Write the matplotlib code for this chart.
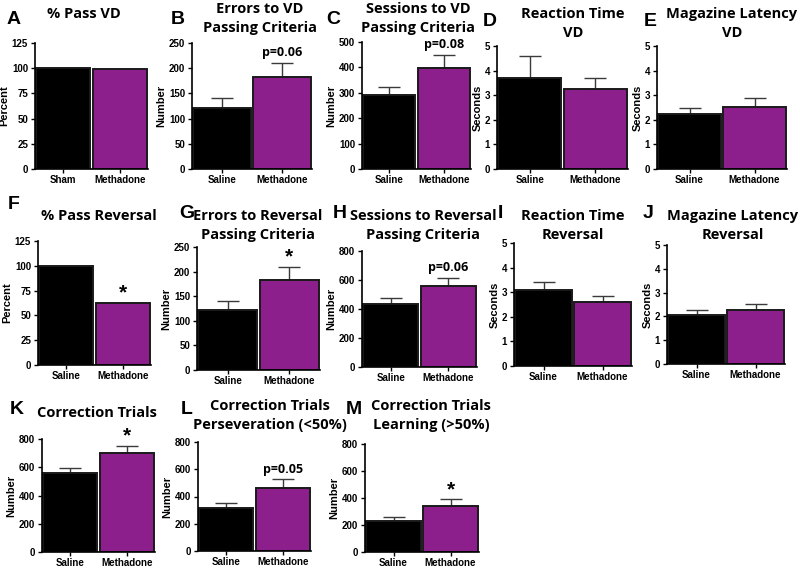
import matplotlib
matplotlib.use("Agg")
import matplotlib.pyplot as plt

# group names
groups_vd_pass = ["Sham", "Methadone"]
groups = ["Saline", "Methadone"]

# means and upper sem
pass_vd = [100, 99.5]
errors_vd = [122, 183]
errors_vd_sem = [18, 27]
sessions_vd = [290, 398]
sessions_vd_sem = [32, 52]
rt_vd = [3.7, 3.25]
rt_vd_sem = [0.9, 0.45]
maglat_vd = [2.22, 2.52]
maglat_vd_sem = [0.26, 0.35]

pass_rev = [100, 63]
errors_rev = [122, 183]
errors_rev_sem = [18, 27]
sessions_rev = [435, 562]
sessions_rev_sem = [43, 53]
rt_rev = [3.1, 2.6]
rt_rev_sem = [0.32, 0.24]
maglat_rev = [2.05, 2.25]
maglat_rev_sem = [0.23, 0.27]

corr = [560, 698]
corr_sem = [38, 54]
corr_pers = [318, 460]
corr_pers_sem = [32, 68]
corr_learn = [230, 340]
corr_learn_sem = [28, 50]

W, H = 800, 569
BLACK = "#000000"
PURPLE = "#8D1F8D"
TITLE_FONT = "Open Sans"
TICK_FONT = "Liberation Sans"

fig = plt.figure(figsize=(W / 100, H / 100), dpi=100)


def px_axes(left, right, top, bottom):
    return fig.add_axes([left / W, 1 - bottom / H, (right - left) / W, (bottom - top) / H])


def ftext(x, y, s, size, ha="center", family=TITLE_FONT):
    fig.text(x / W, 1 - y / H, s, fontsize=size, fontweight="bold",
             family=family, ha=ha, va="center")


# (letter, title lines, box, labels, means, sem, ylim, yticks, ylabel, note, letter pos, title pos)
panels = [
    ("A", ["% Pass VD"], (35, 148, 43, 169), groups_vd_pass, pass_vd, None,
     125, [0, 25, 50, 75, 100, 125], "Percent", None, (14, 19), (84, [14])),
    ("B", ["Errors to VD", "Passing Criteria"], (192, 312, 43, 169), groups, errors_vd, errors_vd_sem,
     250, [0, 50, 100, 150, 200, 250], "Number", "p=0.06", (178, 20), (260, [9, 28])),
    ("C", ["Sessions to VD", "Passing Criteria"], (362, 471, 42, 169), groups, sessions_vd, sessions_vd_sem,
     500, [0, 100, 200, 300, 400, 500], "Number", "p=0.08", (333, 20), (418, [9, 28])),
    ("D", ["Reaction Time", "VD"], (497, 628, 46, 169), groups, rt_vd, rt_vd_sem,
     5, [0, 1, 2, 3, 4, 5], "Seconds", None, (490, 22), (573, [14, 33])),
    ("E", ["Magazine Latency", "VD"], (657, 787, 46, 169), groups, maglat_vd, maglat_vd_sem,
     5, [0, 1, 2, 3, 4, 5], "Seconds", None, (650, 22), (732, [14, 33])),
    ("F", ["% Pass Reversal"], (38, 151, 241, 365), groups, pass_rev, None,
     125, [0, 25, 50, 75, 100, 125], "Percent", "*", (14, 204), (99, [216])),
    ("G", ["Errors to Reversal", "Passing Criteria"], (197, 320, 247, 370), groups, errors_rev, errors_rev_sem,
     250, [0, 50, 100, 150, 200, 250], "Number", "*", (187, 213), (258, [216, 235])),
    ("H", ["Sessions to Reversal", "Passing Criteria"], (362, 477, 251, 367), groups, sessions_rev, sessions_rev_sem,
     800, [0, 200, 400, 600, 800], "Number", "p=0.06", (340, 214), (423, [216, 235])),
    ("I", ["Reaction Time", "Reversal"], (514, 632, 243, 366), groups, rt_rev, rt_rev_sem,
     5, [0, 1, 2, 3, 4, 5], "Seconds", None, (500, 213), (573, [216, 235])),
    ("J", ["Magazine Latency", "Reversal"], (667, 785, 245, 364), groups, maglat_rev, maglat_rev_sem,
     5, [0, 1, 2, 3, 4, 5], "Seconds", None, (648, 213), (733, [216, 235])),
    ("K", ["Correction Trials"], (42, 155, 439, 552), groups, corr, corr_sem,
     800, [0, 200, 400, 600, 800], "Number", "*", (17, 409), (97, [413])),
    ("L", ["Correction Trials", "Perseveration (<50%)"], (198, 311, 442, 551), groups, corr_pers, corr_pers_sem,
     800, [0, 200, 400, 600, 800], "Number", "p=0.05", (187, 410), (270, [406, 425])),
    ("M", ["Correction Trials", "Learning (>50%)"], (365, 479, 444, 552), groups, corr_learn, corr_learn_sem,
     800, [0, 200, 400, 600, 800], "Number", "*", (354, 410), (431, [406, 425])),
]

for letter, title, box, labels, means, sem, ytop, yticks, ylabel, note, lpos, tpos in panels:
    ax = px_axes(*box)
    x = [0, 1]
    ax.bar(x, means, width=0.96, color=[BLACK, PURPLE], edgecolor="#1a1a1a", linewidth=1.4, zorder=2)
    if sem is not None:
        ax.errorbar(x, means, yerr=[[0, 0], sem], fmt="none", ecolor="#3a3a3a",
                    elinewidth=1.0, capsize=8, capthick=1.0, zorder=1)
    ax.set_xlim(-0.5, 1.5)
    ax.set_ylim(0, ytop)
    ax.set_yticks(yticks)
    ax.set_xticks(x)
    ax.set_xticklabels(labels)
    for lab in ax.get_xticklabels() + ax.get_yticklabels():
        lab.set_fontweight("bold")
        lab.set_family(TICK_FONT)
        lab.set_fontsize(7)
    ax.tick_params(axis="both", length=3, width=1.0, pad=2)
    ax.tick_params(axis="x", pad=1.5)
    ax.set_ylabel(ylabel, fontsize=8, fontweight="bold", family=TICK_FONT, labelpad=1.5)
    for s in ["top", "right"]:
        ax.spines[s].set_visible(False)
    for s in ["left", "bottom"]:
        ax.spines[s].set_linewidth(1.2)
    if note is not None:
        top_val = means[1] + (sem[1] if sem is not None else 0)
        if note == "*":
            ax.text(1, top_val, "*", ha="center", va="bottom",
                    fontsize=15, fontweight="bold", family=TICK_FONT)
        else:
            ax.text(1, top_val + ytop * 0.03, note, ha="center", va="bottom",
                    fontsize=9, fontweight="bold", family=TITLE_FONT)
    ftext(lpos[0], lpos[1], letter, 14, family=TICK_FONT)
    for line, ty in zip(title, tpos[1]):
        ftext(tpos[0], ty, line, 10.5)

fig.savefig("out.png", dpi=100)
